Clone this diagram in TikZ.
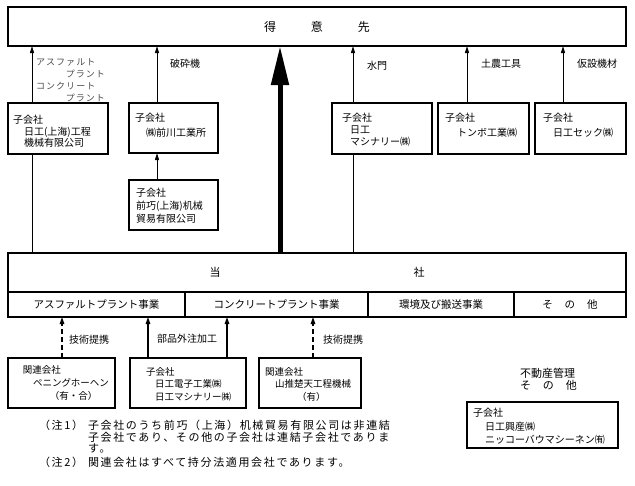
\documentclass[tikz,border=0pt]{standalone}
\usepackage{fontspec}
\setmainfont{Noto Sans CJK JP}
\newfontfamily\notefont[LetterSpace=15]{Noto Sans CJK JP}
\newfontfamily\labfont[LetterSpace=12]{Noto Sans CJK JP}
\usetikzlibrary{arrows.meta}
\begin{document}
\begin{tikzpicture}[x=1pt,y=-1pt,
  box/.style={draw, line width=1.1pt, inner sep=0pt, outer sep=0pt, anchor=north west},
  txt/.style={inner sep=0pt, outer sep=0pt, align=left, anchor=west},
  lab/.style={inner sep=0pt, outer sep=0pt, anchor=west, font=\fontsize{10}{12}\selectfont},
  slab/.style={inner sep=0pt, outer sep=0pt, text=black!70, font=\labfont\fontsize{9}{11}\selectfont},
  note/.style={inner sep=0pt, outer sep=0pt, anchor=west, font=\notefont\fontsize{11}{12}\selectfont},
  sarrow/.style={line width=1pt, -{Triangle[length=7pt,width=4pt]}},
  barrow/.style={line width=1.4pt, -{Triangle[length=7pt,width=4.5pt]}},
  darrow/.style={line width=1.4pt, dash pattern=on 5pt off 3pt, -{Triangle[length=7pt,width=4.5pt]}},
  bigarrow/.style={line width=5pt, -{Triangle[length=39pt,width=17pt]}},
  plain/.style={line width=1pt}]
\useasboundingbox (0,0) rectangle (635,485);
% x positions of connectors
\coordinate (x32) at (32,0);
\coordinate (x157) at (157,0);
\coordinate (x280) at (280,0);
\coordinate (x353) at (353,0);
\coordinate (x467) at (467,0);
\coordinate (x563) at (563,0);
\coordinate (x62) at (62,0);
\coordinate (x148) at (148,0);
\coordinate (x227) at (227,0);
\coordinate (x313) at (313,0);
% top box
\node[box, minimum width=618pt, minimum height=39pt, font=\fontsize{12}{14}\selectfont] (tokui) at (8,7) {得\hspace{35pt}意\hspace{35pt}先};
% subsidiary boxes (upper)
\node[box, minimum width=100pt, minimum height=51pt] (b1) at (8,103) {};
\node[box, minimum width=89pt, minimum height=50pt] (b2) at (129,103) {};
\node[box, minimum width=89pt, minimum height=50pt] (b3) at (129,180) {};
\node[box, minimum width=100pt, minimum height=51pt] (b4) at (332,103) {};
\node[box, minimum width=91pt, minimum height=51pt] (b5) at (438,103) {};
\node[box, minimum width=91pt, minimum height=51pt] (b6) at (535,103) {};
\node[txt, font=\fontsize{10}{11.5}\selectfont] (t1) at (13,131.5) {子会社\\\hspace*{11pt}日工(上海)工程\\\hspace*{11pt}機械有限公司};
\node[txt, font=\fontsize{10}{15}\selectfont] (t2) at (135,125.5) {子会社\\\hspace*{11pt}㈱前川工業所};
\node[txt, font=\fontsize{10}{13}\selectfont] (t3) at (136,206) {子会社\\前巧(上海)机械\\貿易有限公司};
\node[txt, font=\fontsize{10}{12}\selectfont] (t4) at (342,130) {子会社\\\hspace*{8pt}日工\\\hspace*{8pt}マシナリー㈱};
\node[txt, font=\fontsize{10}{15}\selectfont] (t5) at (445,125.5) {子会社\\\hspace*{12pt}トンボ工業㈱};
\node[txt, font=\fontsize{10}{15}\selectfont] (t6) at (543,125.5) {子会社\\\hspace*{10pt}日工セック㈱};
% labels on upper arrows
\node[slab, anchor=west] (l1a) at (36,62) {アスファルト};
\node[slab, anchor=east] (l1b) at (105,74) {プラント};
\node[slab, anchor=west] (l1c) at (36,86) {コンクリート};
\node[slab, anchor=east] (l1d) at (105,98) {プラント};
\node[lab] (l2) at (170,64) {破砕機};
\node[lab] (l4) at (367,66) {水門};
\node[lab] (l5) at (481,64) {土農工具};
\node[lab] (l6) at (577,64) {仮設機材};
% company box
\node[box, minimum width=618pt, minimum height=39pt, font=\fontsize{11}{13}\selectfont] (tosha) at (8,253) {当\hspace{193pt}社};
\node[box, minimum width=177pt, minimum height=25pt, font=\fontsize{10.5}{12}\selectfont] (s1) at (8,292) {アスファルトプラント事業};
\node[box, minimum width=183pt, minimum height=25pt, font=\fontsize{10.5}{12}\selectfont] (s2) at (185,292) {コンクリートプラント事業};
\node[box, minimum width=146pt, minimum height=25pt, font=\fontsize{10.5}{12}\selectfont] (s3) at (368,292) {環境及び搬送事業};
\node[box, minimum width=112pt, minimum height=25pt, font=\fontsize{10.5}{12}\selectfont] (s4) at (514,292) {そ\hspace{12pt}の\hspace{12pt}他};
% lower boxes
\node[box, minimum width=107pt, minimum height=50pt] (b7) at (8,358) {};
\node[box, minimum width=116pt, minimum height=50pt] (b8) at (130,358) {};
\node[box, minimum width=102pt, minimum height=50pt] (b9) at (259,358) {};
\node[box, minimum width=151pt, minimum height=46pt] (b10) at (467,402) {};
\node[txt, font=\fontsize{9.5}{13}\selectfont] (t7) at (23,383) {関連会社\\\hspace*{10pt}ペニングホーヘン\\\hspace*{27pt}（有・合）};
\node[txt, font=\fontsize{9.5}{12.5}\selectfont] (t8) at (146,384) {子会社\\\hspace*{9pt}日工電子工業㈱\\\hspace*{9pt}日工マシナリー㈱};
\node[txt, font=\fontsize{9.5}{12.5}\selectfont] (t9) at (265,384) {関連会社\\\hspace*{10pt}山推楚天工程機械\\\hspace*{32pt}（有）};
\node[txt, font=\fontsize{10}{13.5}\selectfont] (t10) at (473,426.5) {子会社\\\hspace*{12pt}日工興産㈱\\\hspace*{12pt}ニッコーバウマシーネン㈲};
\node[lab] (l7) at (69,340) {技術提携};
\node[lab] (l8) at (157,339) {部品外注加工};
\node[lab] (l9) at (323,340) {技術提携};
\node[txt, font=\fontsize{11}{12}\selectfont] (l10) at (520,379) {不動産管理\\そ\hspace{12pt}の\hspace{12pt}他};
% notes
\node[note] (n1h) at (39,425) {（注1）};
\node[note] (n1a) at (88,425) {子会社のうち前巧（上海）机械貿易有限公司は非連結};
\node[note] (n1b) at (88,437) {子会社であり、その他の子会社は連結子会社でありま};
\node[note] (n1c) at (88,448) {す。};
\node[note] (n2h) at (39,462) {（注2）};
\node[note] (n2) at (88,462) {関連会社はすべて持分法適用会社であります。};
% connectors upper
\draw[sarrow] (b1.north -| x32) -- (tokui.south -| x32);
\draw[sarrow] (b2.north -| x157) -- (tokui.south -| x157);
\draw[sarrow] (b3.north -| x157) -- (b2.south -| x157);
\draw[sarrow] (b4.north -| x353) -- (tokui.south -| x353);
\draw[sarrow] (b5.north -| x467) -- (tokui.south -| x467);
\draw[sarrow] (b6.north -| x563) -- (tokui.south -| x563);
\draw[plain] (b1.south -| x32) -- (tosha.north -| x32);
\draw[plain] (b4.south -| x353) -- (tosha.north -| x353);
\draw[bigarrow] (tosha.north -| x280) -- (tokui.south -| x280);
% connectors lower
\draw[darrow] (b7.north -| x62) -- (s1.south -| x62);
\draw[barrow] (b8.north -| x148) -- (s1.south -| x148);
\draw[barrow] (b8.north -| x227) -- (s2.south -| x227);
\draw[darrow] (b9.north -| x313) -- (s2.south -| x313);
\end{tikzpicture}
\end{document}
